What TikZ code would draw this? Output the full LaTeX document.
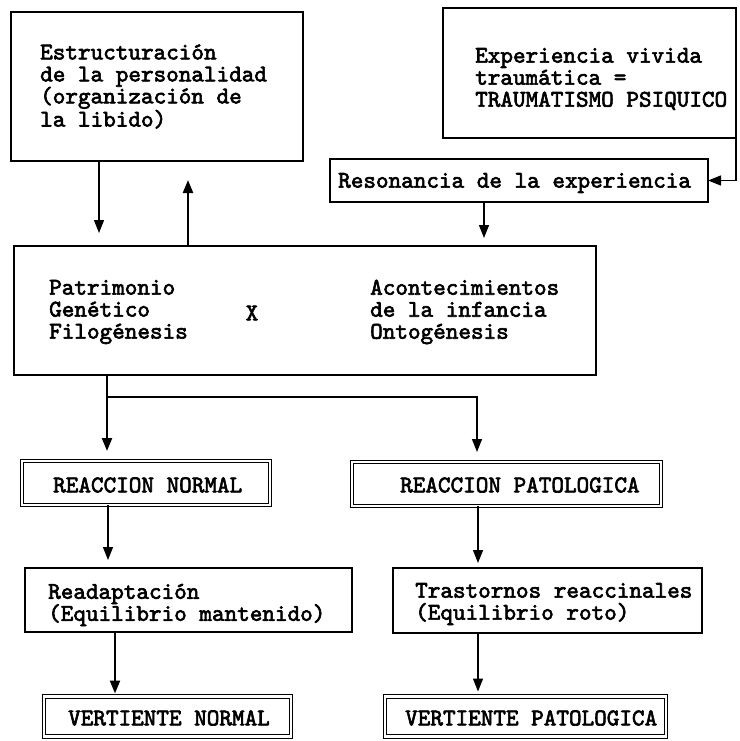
\documentclass[tikz,border=0pt]{standalone}
\usepackage{fontspec}
\newfontfamily\typew[FakeBold=2.6]{lmmono10-regular.otf}
\usetikzlibrary{arrows.meta}
\begin{document}
\begin{tikzpicture}[x=1bp,y=-1bp,
  boxn/.style={draw, line width=1.4bp, inner sep=0pt, outer sep=0pt},
  dbox/.style={draw, line width=1bp, double, double distance=2.4bp, inner sep=0pt, outer sep=0pt},
  txt/.style={inner sep=0pt, anchor=west, align=left, font={\typew\fontsize{24bp}{22bp}\selectfont}},
  arr/.style={line width=1.4bp, -{Triangle[width=10bp,length=13bp]}},
  arrb/.style={arr, line width=2.3bp}]
\fill[white] (0,0) rectangle (740,741);
\useasboundingbox (0,0) rectangle (740,741);

% boxes
\node[boxn, minimum width=292bp, minimum height=149bp] (estr) at (157,86.5) {};
\node[boxn, minimum width=293bp, minimum height=130bp] (exp) at (589.5,73) {};
\node[boxn, minimum width=378bp, minimum height=43bp] (reson) at (519,180.5) {};
\node[boxn, minimum width=582bp, minimum height=129bp] (main) at (305,310.5) {};
\node[dbox, minimum width=248bp, minimum height=44bp] (rnorm) at (146,483) {};
\node[dbox, minimum width=309bp, minimum height=44bp] (rpat) at (506.5,484) {};
\node[boxn, minimum width=327bp, minimum height=64bp] (readapt) at (188.5,600) {};
\node[boxn, minimum width=309bp, minimum height=65bp] (trast) at (547.5,600.5) {};
\node[dbox, minimum width=247bp, minimum height=40bp] (vnorm) at (167.5,716.5) {};
\node[dbox, minimum width=281bp, minimum height=40bp] (vpat) at (525.5,716.5) {};

% texts
\node[txt] (estrT) at (40,86.5) {Estructuración\\de la personalidad\\(organización de\\la libido)};
\node[txt] (expT) at (475,79) {Experiencia vivida\\traumática =\\TRAUMATISMO PSIQUICO};
\node[txt] (resonT) at (338,183) {Resonancia de la experiencia};
\node[txt] (leftT) at (49,312) {Patrimonio\\Genético\\Filogénesis};
\node[txt, anchor=center] (xT) at (252,313) {X};
\node[txt] (rightT) at (370,312) {Acontecimientos\\de la infancia\\Ontogénesis};
\node[txt] (rnormT) at (53,485) {REACCION NORMAL};
\node[txt] (rpatT) at (400,485) {REACCION PATOLOGICA};
\node[txt] (readT) at (48,605) {Readaptación\\(Equilibrio mantenido)};
\node[txt] (trastT) at (415,604) {Trastornos reaccinales\\(Equilibrio roto)};
\node[txt] (vnormT) at (68,718) {VERTIENTE NORMAL};
\node[txt] (vpatT) at (405,718) {VERTIENTE PATOLOGICA};

% connector x positions
\coordinate (c1) at (99,0);
\coordinate (c2) at (188,0);
\coordinate (c3) at (484,0);
\coordinate (c5) at (477,0);
\coordinate (c6) at (108,0);
\coordinate (c7) at (115,0);
\coordinate (c8) at (478,0);
\coordinate (br) at (107,397);

\draw[arr, shorten >=13bp] (estr.south -| c1) -- (main.north -| c1);
\draw[arrb, shorten >=19bp] (main.north -| c2) -- (estr.south -| c2);
\draw[arr] (exp.south east) |- (reson.east);
\draw[arr, shorten >=8bp] (reson.south -| c3) -- (main.north -| c3);
\draw[arrb, shorten >=10bp] (main.south -| br) -- (rnorm.north -| br);
\draw[arr, shorten >=10bp] (br) -- (br -| c5) -- (rpat.north -| c5);
\draw[arr, shorten >=8bp] (rnorm.south -| c6) -- (readapt.north -| c6);
\draw[arrb, shorten >=3bp] (readapt.south -| c7) -- (vnorm.north -| c7);
\draw[arr, shorten >=5bp] (rpat.south -| c8) -- (trast.north -| c8);
\draw[arr, shorten >=5bp] (trast.south -| c8) -- (vpat.north -| c8);
\end{tikzpicture}
\end{document}
